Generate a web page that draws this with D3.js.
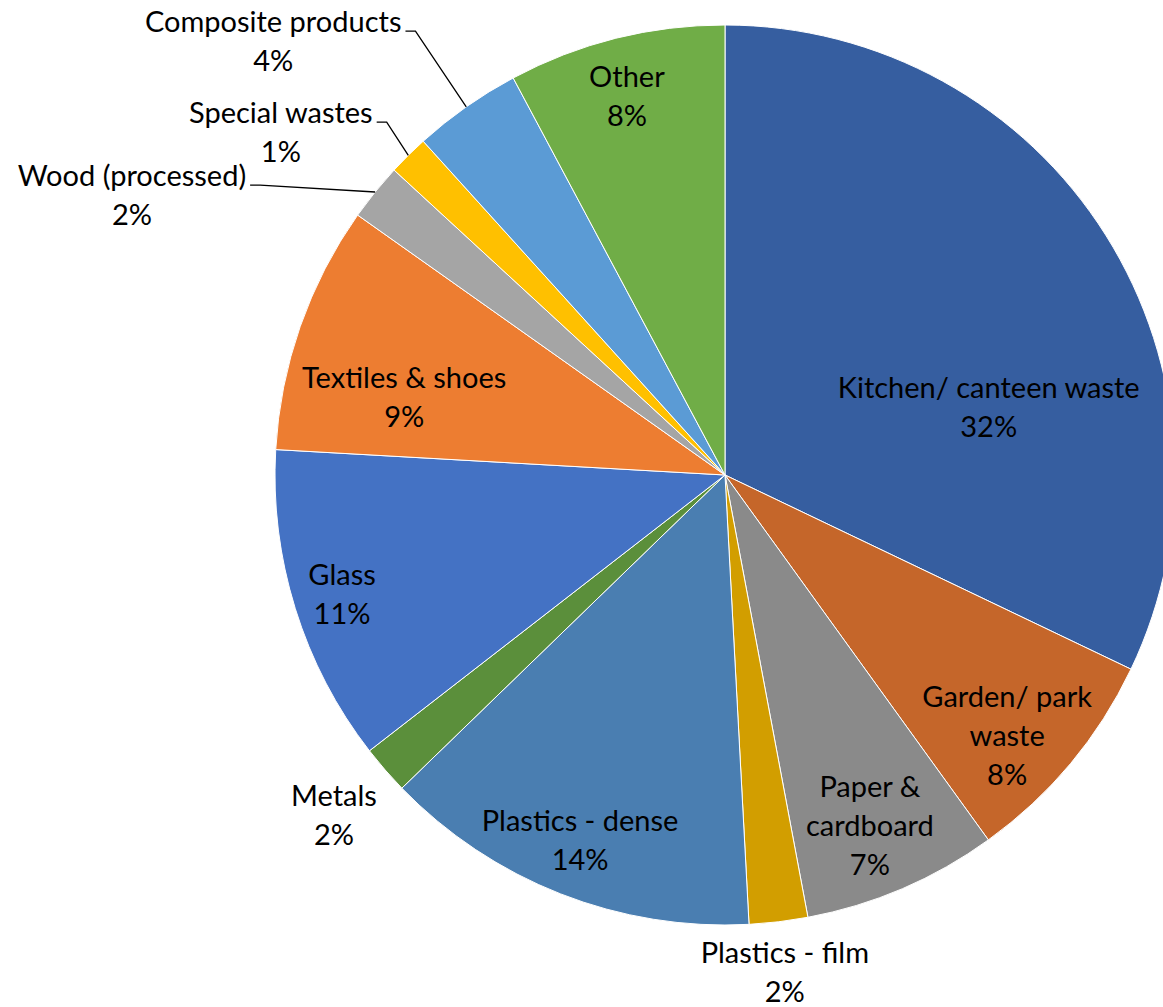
<!DOCTYPE html>
<html>
<head>
<meta charset="utf-8">
<script src="https://cdn.jsdelivr.net/npm/d3@7"></script>
<style>
  html, body { margin: 0; padding: 0; background: #ffffff; overflow: hidden; }
  svg { display: block; }
  text { font-family: Lato, "Open Sans", "Liberation Sans", sans-serif; fill: #000; }
</style>
</head>
<body>
<svg id="chart" width="1163" height="1007"></svg>
<script>
// Waste composition, share of total (%), clockwise from 12 o'clock
const categories = [
  "Kitchen/ canteen waste",
  "Garden/ park\nwaste",
  "Paper &\ncardboard",
  "Plastics - film",
  "Plastics - dense",
  "Metals",
  "Glass",
  "Textiles & shoes",
  "Wood (processed)",
  "Special wastes",
  "Composite products",
  "Other"
];
const values = [32.1, 7.95, 7.0, 2.1, 13.6, 1.75, 11.4, 8.9, 2.05, 1.45, 3.9, 7.8];
const colors = [
  "#365ea0", "#c5662a", "#8a8a8a", "#d29e00", "#4a7eb1", "#5b8f3b",
  "#4472c4", "#ed7d31", "#a5a5a5", "#ffc000", "#5b9bd5", "#70ad47"
];
// Slices whose label sits outside and is tied to the slice by a leader line
const withLeader = ["Wood (processed)", "Special wastes", "Composite products"];

// Label block centres, in units of the radius, relative to the pie centre
const labelOffsets = [
  [0.586, -0.151], [0.627, 0.578], [0.322, 0.780], [0.133, 1.104],
  [-0.322, 0.811], [-0.869, 0.756], [-0.851, 0.264], [-0.713, -0.173],
  [-1.318, -0.622], [-0.987, -0.762], [-1.004, -0.964], [-0.218, -0.842]
];

const cx = 725, cy = 475, R = 450;
const fontSize = 29, lineGap = 39;
const pct = d3.format(".0%");

const svg = d3.select("#chart");
const g = svg.append("g").attr("transform", `translate(${cx},${cy})`);

const pie = d3.pie().sort(null).value(d => d.value);
const arcs = pie(categories.map((c, i) => ({ name: c, value: values[i], color: colors[i], off: labelOffsets[i] })));
const arc = d3.arc().innerRadius(0).outerRadius(R);

g.selectAll("path.slice")
  .data(arcs)
  .join("path")
  .attr("class", "slice")
  .attr("d", arc)
  .attr("fill", d => d.data.color)
  .attr("stroke", "#ffffff")
  .attr("stroke-width", 1)
  .attr("stroke-linejoin", "round");

const labels = g.selectAll("g.label")
  .data(arcs)
  .join("g")
  .attr("class", "label");

labels.each(function (d) {
  const lines = d.data.name.split("\n").concat([pct(d.data.value / 100)]);
  const x = d.data.off[0] * R, y = d.data.off[1] * R;
  const n = lines.length;
  const sel = d3.select(this);
  const texts = sel.selectAll("text")
    .data(lines)
    .join("text")
    .attr("x", x)
    .attr("y", (t, i) => y + (i - (n - 1) / 2) * lineGap + fontSize * 0.36)
    .attr("text-anchor", "middle")
    .attr("font-size", fontSize)
    .text(t => t);

  if (withLeader.includes(d.data.name)) {
    const first = texts.nodes()[0];
    const w = first.getComputedTextLength();
    const baseY = y - (n - 1) / 2 * lineGap + fontSize * 0.36 - 1;
    const x0 = x + w / 2 + 4;
    const mid = (d.startAngle + d.endAngle) / 2;
    const ex = Math.sin(mid) * R, ey = -Math.cos(mid) * R;
    sel.append("path")
      .attr("d", d3.line()([[x0, baseY], [x0 + 10, baseY], [ex, ey]]))
      .attr("fill", "none")
      .attr("stroke", "#000")
      .attr("stroke-width", 1.3);
  }
});
</script>
</body>
</html>
